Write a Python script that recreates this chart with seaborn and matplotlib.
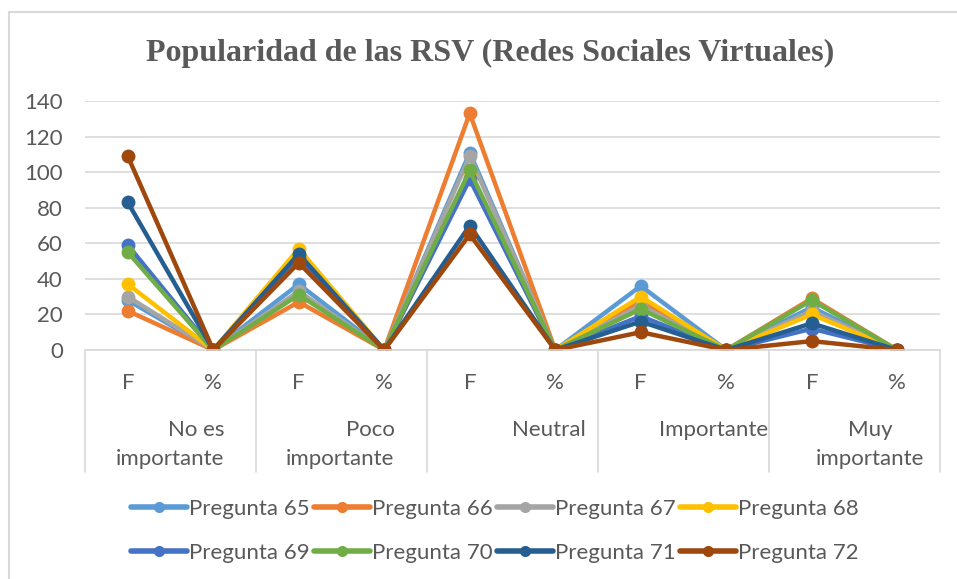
import numpy as np
import pandas as pd
import matplotlib

matplotlib.use("Agg")
import matplotlib.pyplot as plt
from matplotlib.lines import Line2D
import seaborn as sns

# --- data ---
sub_labels = ["F", "%", "F", "%", "F", "%", "F", "%", "F", "%"]
groups = ["No es\nimportante", "Poco\nimportante", "Neutral", "Importante", "Muy\nimportante"]
series = ["Pregunta 65", "Pregunta 66", "Pregunta 67", "Pregunta 68",
          "Pregunta 69", "Pregunta 70", "Pregunta 71", "Pregunta 72"]

p65 = [28, 0, 37, 0, 111, 0, 36, 0, 24, 0]
p66 = [22, 0, 27, 0, 133, 0, 27, 0, 29, 0]
p67 = [30, 0, 33, 0, 109, 0, 25, 0, 22, 0]
p68 = [37, 0, 57, 0, 97, 0, 30, 0, 20, 0]
p69 = [59, 0, 52, 0, 96, 0, 19, 0, 12, 0]
p70 = [55, 0, 31, 0, 101, 0, 23, 0, 28, 0]
p71 = [83, 0, 54, 0, 70, 0, 16, 0, 15, 0]
p72 = [109, 0, 49, 0, 65, 0, 10, 0, 5, 0]

colors = ["#5B9BD5", "#ED7D31", "#A5A5A5", "#FFC000",
          "#4472C4", "#70AD47", "#255E91", "#9E480E"]

values = [p65, p66, p67, p68, p69, p70, p71, p72]
rows = []
for name, vals in zip(series, values):
    for i, v in enumerate(vals):
        rows.append({"pos": i, "valor": v, "serie": name})
df = pd.DataFrame(rows)

sns.set_theme(style="white")
plt.rcParams["font.family"] = ["Lato", "DejaVu Sans"]
TXT = "#595959"
GRID = "#D9D9D9"
FS = 16

fig = plt.figure(figsize=(9.57, 5.79), dpi=100)
W, H = 957, 579
ax = fig.add_axes([85 / W, 1 - 350 / H, 855 / W, 249 / H])

sns.lineplot(data=df, x="pos", y="valor", hue="serie", palette=colors,
             marker="o", markersize=10, markeredgewidth=0, linewidth=3.2,
             legend=False, ax=ax)

ax.set_xlim(-0.5, 9.5)
ax.set_ylim(0, 140)
ax.set_yticks(np.arange(0, 141, 20))
ax.yaxis.grid(True, color=GRID, linewidth=1.2)
ax.set_axisbelow(True)
for s in ["top", "right", "left"]:
    ax.spines[s].set_visible(False)
ax.spines["bottom"].set_color(GRID)
ax.spines["bottom"].set_linewidth(1.2)
ax.tick_params(axis="y", length=0, pad=16, labelsize=FS, labelcolor=TXT)
ax.set_xticks([])
ax.set_xlabel("")
ax.set_ylabel("")

# sub-category labels (F / %)
for i, lab in enumerate(sub_labels):
    ax.annotate(lab, xy=(i, 0), xycoords=("data", "axes fraction"),
                xytext=(0, -39), textcoords="offset pixels",
                ha="center", va="baseline", fontsize=FS, color=TXT)

# group separators
for b in np.arange(-0.5, 10, 2):
    ax.plot([b, b], [0, -122 / 249], color=GRID, linewidth=1.2,
            transform=ax.get_xaxis_transform(), clip_on=False)

# group labels
label_x = [1.13, 3.12, 4.92, 6.85, 8.68]
label_ha = ["right", "right", "center", "center", "center"]
for g, x, ha in zip(groups, label_x, label_ha):
    for k, line in enumerate(g.split("\n")):
        ax.annotate(line, xy=(x, 0), xycoords=("data", "axes fraction"),
                    xytext=(0, -86 - 29 * k), textcoords="offset pixels",
                    ha=ha, va="baseline", fontsize=FS, color=TXT)

fig.text(490 / W, 1 - 53 / H, "Popularidad de las RSV (Redes Sociales Virtuales)",
         ha="center", va="center", fontsize=23, fontweight="bold",
         family="Liberation Serif", color=TXT)

# legend filled row by row (matplotlib fills columns first)
handles = [Line2D([0], [0], color=c, linewidth=4, marker="o", markersize=8,
                  markeredgewidth=0) for c in colors]
order = [0, 4, 1, 5, 2, 6, 3, 7]
fig.legend([handles[i] for i in order], [series[i] for i in order],
           loc="center", ncol=4,
           bbox_to_anchor=(495 / W, 1 - 531 / H), frameon=False,
           fontsize=FS, labelcolor=TXT, handlelength=2.5, handletextpad=0.1,
           columnspacing=0.2, labelspacing=1.1)

# chart border (top and left edges visible)
fig.add_artist(Line2D([8.5 / W, 8.5 / W], [0, 1 - 12 / H], color=GRID,
                      linewidth=1.5, transform=fig.transFigure))
fig.add_artist(Line2D([8.5 / W, 1], [1 - 12 / H, 1 - 12 / H], color=GRID,
                      linewidth=1.5, transform=fig.transFigure))

fig.savefig("out.png", dpi=100)
